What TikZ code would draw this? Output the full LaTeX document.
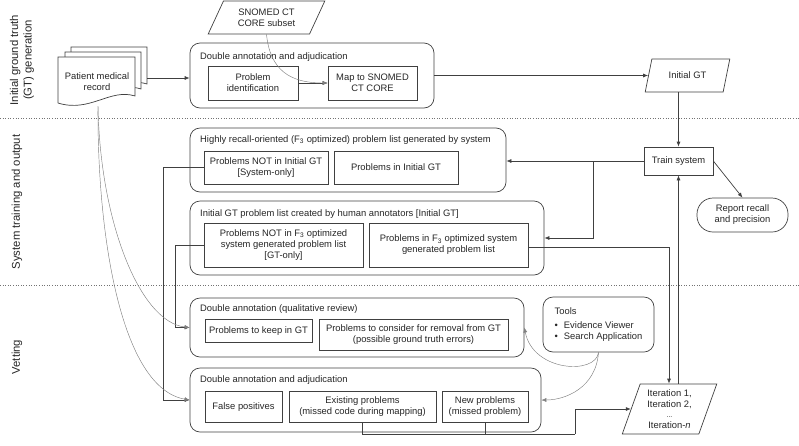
\documentclass[tikz,border=0pt]{standalone}
\usepackage{fontspec}
\setmainfont{Liberation Sans}
\usetikzlibrary{shapes.geometric,arrows.meta,calc}
\begin{document}
\begin{tikzpicture}[x=1pt,y=-1pt,
  every node/.style={font=\fontsize{9.4pt}{11pt}\selectfont, text=black!85},
  ln/.style={draw=black!75, line width=0.7pt},
  arr/.style={ln, -{Latex[length=5pt,width=4pt]}},
  garr/.style={draw=black!50, line width=0.45pt, -{Latex[length=5pt,width=4pt]}},
  box/.style={ln, rectangle, inner sep=0pt, align=center, fill=white},
  grp/.style={ln, rectangle, rounded corners=10pt, inner sep=0pt},
  glbl/.style={anchor=west, inner sep=0pt},
  para/.style={ln, trapezium, trapezium stretches=true, inner sep=0pt, align=center},
  side/.style={rotate=90, align=center, font=\fontsize{11.3pt}{13.5pt}\selectfont},
  sep/.style={draw=black!55, dotted, line width=0.6pt}
]
\useasboundingbox (0,0) rectangle (799,445);

% separators
\draw[sep] (0,118) -- (799,118);
\draw[sep] (0,285) -- (799,285);

% side labels
\node[side] (s1) at (22,60) {Initial ground truth\\(GT) generation};
\node[side] (s2) at (17,202) {System training and output};
\node[side] (s3) at (17,357) {Vetting};

% patient medical record (document stack)
\draw[ln, fill=white] (71,86) -- (71,47) -- (147,47) -- (147,84) .. controls (125,77) and (110,94) .. (71,86);
\draw[ln, fill=white] (65,91) -- (65,52) -- (141,52) -- (141,89) .. controls (120,82) and (105,99) .. (65,91);
\draw[ln, fill=white] (58,103) -- (58,57) -- (135,57) -- (135,96) .. controls (110,88) and (90,113) .. (58,103);
\node[align=center] (doc) at (97,82) {Patient medical\\record};
\coordinate (docR) at (147,78);
\coordinate (docB) at (98,106);

% top group
\node[grp, minimum width=244pt, minimum height=65pt] (grp1) at (312,75.5) {};
\node[glbl] (g1l) at (200,57) {Double annotation and adjudication};
\node[box, minimum width=90pt, minimum height=34pt] (pid) at (253,83) {Problem\\identification};
\node[box, minimum width=89pt, minimum height=34pt] (map) at (372.5,83) {Map to SNOMED\\CT CORE};
\node[para, trapezium left angle=60, trapezium right angle=120, minimum width=117pt, minimum height=33pt] (snomed) at (266.5,17.5) {SNOMED CT\\CORE subset};
\node[para, trapezium left angle=63, trapezium right angle=117, minimum width=85pt, minimum height=33pt] (initgt) at (687.5,75.5) {Initial GT};

% system training
\node[box, minimum width=69pt, minimum height=28pt] (train) at (678.5,161) {Train system};
\node[ln, rectangle, rounded corners=16pt, minimum width=91pt, minimum height=34pt, inner sep=0pt, align=center] (report) at (742.5,215) {Report recall\\and precision};

\node[grp, minimum width=316pt, minimum height=64pt] (grp2) at (348,160) {};
\node[glbl] (g2l) at (200,140) {Highly recall-oriented (F\textsubscript{3} optimized) problem list generated by system};
\node[box, minimum width=124pt, minimum height=33pt] (sysonly) at (266,167.5) {Problems NOT in Initial GT\\{[System-only]}};
\node[box, minimum width=124pt, minimum height=33pt] (ininit) at (396,167.5) {Problems in Initial GT};

\node[grp, minimum width=354pt, minimum height=74pt] (grp3) at (367,238) {};
\node[glbl] (g3l) at (200,214) {Initial GT problem list created by human annotators [Initial GT]};
\node[box, minimum width=159pt, minimum height=44pt] (gtonly) at (283.5,245) {Problems NOT in F\textsubscript{3} optimized\\system generated problem list\\{[GT-only]}};
\node[box, minimum width=159pt, minimum height=44pt] (inf3) at (448.5,245) {Problems in F\textsubscript{3} optimized system\\generated problem list};

% vetting
\node[grp, minimum width=334pt, minimum height=59pt] (grp4) at (357,327.5) {};
\node[glbl] (g4l) at (200,309) {Double annotation (qualitative review)};
\node[box, minimum width=107pt, minimum height=23pt] (keep) at (258.5,331) {Problems to keep in GT};
\node[box, minimum width=189pt, minimum height=31pt] (removal) at (413.5,335) {Problems to consider for removal from GT\\(possible ground truth errors)};

\node[grp, minimum width=111pt, minimum height=55pt, align=left] (tools) at (598.5,324.5) {Tools\\[3pt]\textbullet\hspace{6pt}Evidence Viewer\\\textbullet\hspace{6pt}Search Application};

\node[grp, minimum width=351pt, minimum height=64pt] (grp5) at (365.5,400) {};
\node[glbl] (g5l) at (200,380) {Double annotation and adjudication};
\node[box, minimum width=77pt, minimum height=31pt] (fp) at (243.5,407) {False positives};
\node[box, minimum width=147pt, minimum height=31pt] (exist) at (362.5,407) {Existing problems\\(missed code during mapping)};
\node[box, minimum width=86pt, minimum height=31pt] (newp) at (485,407) {New problems\\(missed problem)};

\node[para, trapezium left angle=71, trapezium right angle=109, minimum width=95pt, minimum height=50pt, font=\fontsize{9.4pt}{11.5pt}\selectfont] (iter) at (669.5,409) {Iteration 1,\\Iteration 2,\\[-2pt]{\scriptsize ...}\\Iteration-\textit{n}};

% connectors
\draw[arr] (docR) -- (docR -| grp1.west);
\draw[arr] (pid) -- (map);
\draw[garr] (snomed.south) .. controls (270,70) and (290,83) .. (map.west);
\draw[arr] (grp1.east) -- (initgt.west);
\draw[arr] (train.north |- initgt.south) -- (train.north);
\draw[arr] (train.west) -- (train.west -| grp2.east);
\coordinate (br) at (593,161);
\draw[arr] (br) |- (grp3.east);
\draw[arr] (train.east) -- (report.north);
\coordinate (rt) at (669,247);
\draw[arr] (inf3.east |- rt) -- (rt) -- (rt |- iter.north);
\draw[arr] (train.south |- iter.north) -- (train.south);

\coordinate (j1) at (575,434);
\draw[ln] (exist.south) |- (j1);
\draw[ln] (newp.south) -- (newp.south |- j1);
\draw[arr] (j1) |- (iter.west);

\coordinate (c1) at (163,167.5);
\draw[arr] (sysonly.west) -- (c1) |- (grp5.west);
\coordinate (c2) at (175,245);
\draw[arr] (gtonly.west) -- (c2) |- (grp4.west);

\draw[garr] (docB) .. controls (100,222) and (140,322) .. (grp4.west);
\draw[garr] (docB) .. controls (97,232) and (120,388) .. (grp5.west);

\draw[garr] (tools.south) .. controls (596,375) and (533,372) .. (grp4.east);
\draw[garr] (tools.south) .. controls (596,388) and (565,400) .. (grp5.east);
\end{tikzpicture}
\end{document}
